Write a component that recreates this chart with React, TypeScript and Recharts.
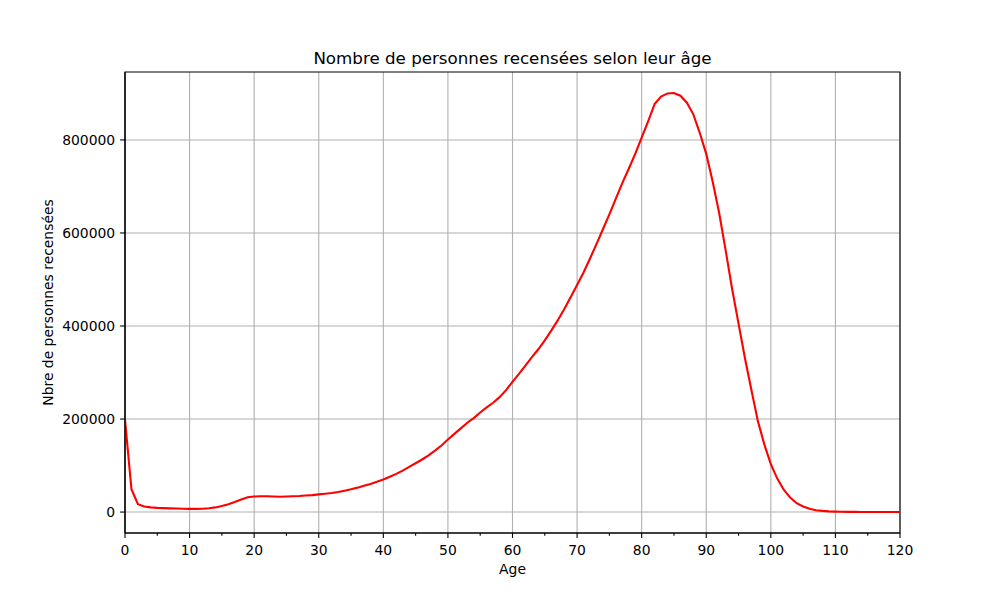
import React from 'react';
import { LineChart, Line, XAxis, YAxis, CartesianGrid, Label, ReferenceArea } from 'recharts';

// ages 0..120
const ages = Array.from({ length: 121 }, (_, i) => i);

// number of people per age
const counts = [
    199000, 49000, 17000, 12000, 10000, 9000, 8500, 8000, 7500, 7000,
    6800, 6800, 7200, 8200, 10000, 13000, 17000, 21500, 27000, 32000,
    33500, 34000, 34000, 33500, 33000, 33500, 34000, 34500, 35500, 36500,
    38000, 39500, 41000, 43000, 46000, 49000, 52500, 56500, 60500, 65000,
    70000, 76000, 82000, 89000, 97000, 105000, 113000, 122000, 132000, 143000,
    156000, 168000, 180000, 192000, 202000, 214000, 225000, 235000, 247000, 262000,
    280000, 297000, 315000, 333000, 350000, 369000, 390000, 412000, 436000, 462000,
    488000, 515000, 545000, 576000, 608000, 640000, 674000, 707000, 738000, 770000,
    805000, 840000, 877000, 893000, 900000, 901000, 895000, 880000, 855000, 815000,
    770000, 710000, 643000, 563000, 480000, 405000, 330000, 262000, 195000, 145000,
    103000, 72000, 48000, 31000, 19000, 12000, 7000, 4000, 2500, 1500,
    900, 600, 400, 300, 200, 150, 100, 80, 60, 40,
    30,
];

const xTicks = Array.from({ length: 25 }, (_, i) => i * 5);
const xMajor = xTicks.filter((t) => t % 10 === 0);
const yTicks = [0, 200000, 400000, 600000, 800000];

const data = ages.map((age, i) => ({ age, n: counts[i] }));

// matplotlib-style 5% margins on y
const yMin = Math.min(...counts);
const yMax = Math.max(...counts);
const pad = (yMax - yMin) * 0.05;
const yDomain = [yMin - pad, yMax + pad];

const FONT = '"DejaVu Sans", sans-serif';

const XTick = (props: any) => {
    const { x, y, payload } = props;
    const major = payload.value % 10 === 0;
    return (
        <g>
            <line x1={x} x2={x} y1={y} y2={y + (major ? 4.9 : 2.8)} stroke="#000" strokeWidth={1.1} />
            {major && (
                <text x={x} y={y + 12} dy="0.75em" textAnchor="middle" fontSize={13.9} fill="#000" fontFamily={FONT}>
                    {payload.value}
                </text>
            )}
        </g>
    );
};

export default function App() {
    return (
        <div style={{ position: 'absolute', left: 0, top: 0, width: 1000, height: 600, background: '#fff', fontFamily: FONT }}>
            <div
                style={{
                    position: 'absolute',
                    left: 125,
                    width: 775,
                    top: 48,
                    lineHeight: '20px',
                    textAlign: 'center',
                    fontSize: 16.7,
                    color: '#000',
                }}
            >
                Nombre de personnes recensées selon leur âge
            </div>
            <LineChart width={1000} height={600} data={data} margin={{ top: 72, right: 100, bottom: 0, left: 0 }}>
                <CartesianGrid stroke="#b0b0b0" strokeWidth={1.1} verticalValues={xMajor} horizontalValues={yTicks} />
                <XAxis
                    dataKey="age"
                    type="number"
                    domain={[0, 120]}
                    ticks={xTicks}
                    interval={0}
                    height={67}
                    tickSize={0}
                    tickMargin={0}
                    tickLine={false}
                    tick={<XTick />}
                    axisLine={{ stroke: '#000', strokeWidth: 1.1 }}
                    allowDataOverflow
                >
                    <Label value="Age" position="center" dy={3} fontSize={13.9} fill="#000" fontFamily={FONT} />
                </XAxis>
                <YAxis
                    domain={yDomain}
                    ticks={yTicks}
                    interval={0}
                    width={125}
                    tickSize={4.9}
                    tickMargin={4.9}
                    tick={{ fontSize: 13.9, fill: '#000', fontFamily: FONT }}
                    tickLine={{ stroke: '#000', strokeWidth: 1.1 }}
                    axisLine={{ stroke: '#000', strokeWidth: 1.1 }}
                    allowDataOverflow
                >
                    <Label
                        value="Nbre de personnes recensées"
                        angle={-90}
                        position="center"
                        dx={-14}
                        fontSize={13.9}
                        fill="#000"
                        fontFamily={FONT}
                    />
                </YAxis>
                <Line
                    type="linear"
                    dataKey="n"
                    stroke="#ff0000"
                    strokeWidth={2.1}
                    dot={false}
                    activeDot={false}
                    isAnimationActive={false}
                />
                {/* axes frame (matplotlib spines) */}
                <ReferenceArea
                    x1={0}
                    x2={120}
                    y1={yDomain[0]}
                    y2={yDomain[1]}
                    fill="none"
                    fillOpacity={0}
                    stroke="#000"
                    strokeWidth={1.1}
                    ifOverflow="visible"
                />
            </LineChart>
        </div>
    );
}
